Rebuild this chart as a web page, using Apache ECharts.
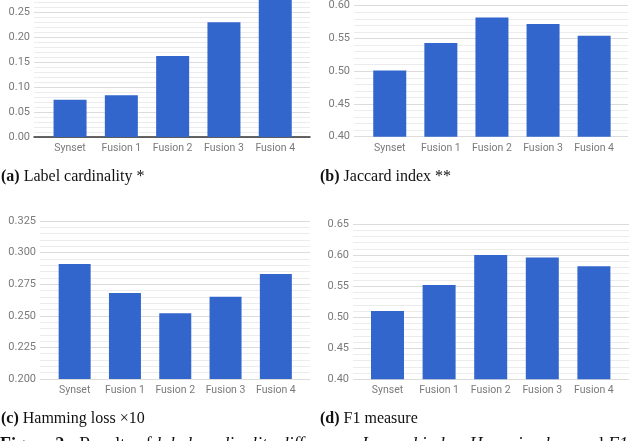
<!DOCTYPE html>
<html>
<head>
<meta charset="utf-8">
<script src="https://cdn.jsdelivr.net/npm/echarts@6/dist/echarts.min.js"></script>
<style>
html,body{margin:0;padding:0;background:#fff;overflow:hidden;}
#c{position:absolute;left:0;top:-18px;width:640px;height:477px;}
</style>
</head>
<body>
<div id="c"></div>
<script>
// ---- data ----
const categories = ['Synset', 'Fusion 1', 'Fusion 2', 'Fusion 3', 'Fusion 4'];
const labelCardinality = [0.072, 0.081, 0.157, 0.222, 0.29];
const jaccardIndex = [0.501, 0.543, 0.582, 0.572, 0.554];
const hammingLoss = [0.291, 0.268, 0.252, 0.265, 0.283];
const f1Measure = [0.510, 0.552, 0.600, 0.596, 0.582];
// axis ranges [min, max, interval, decimals]
const axisA = [0.00, 0.30, 0.05, 2];
const axisB = [0.40, 0.60, 0.05, 2];
const axisC = [0.200, 0.325, 0.025, 3];
const axisD = [0.40, 0.65, 0.05, 2];
const captionA = ['(a)', 'Label cardinality *'];
const captionB = ['(b)', 'Jaccard index **'];
const captionC = ['(c)', 'Hamming loss \u00d710'];
const captionD = ['(d)', 'F1 measure'];

// ---- layout (container is shifted up by 18px, so y values are +18) ----
const panels = [
  {data: labelCardinality, axis: axisA, wide: {left: 34, top: -1.5, width: 276, height: 156.5}, narrow: {left: 44.4, width: 256.5}, barW: 33, baseline: true},
  {data: jaccardIndex, axis: axisB, wide: {left: 354, top: 23.7, width: 274, height: 131}, narrow: {left: 364.2, width: 255.5}, barW: 33, baseline: false},
  {data: hammingLoss, axis: axisC, wide: {left: 40, top: 239, width: 270, height: 158}, narrow: {left: 49.5, width: 251.5}, barW: 32, baseline: false},
  {data: f1Measure, axis: axisD, wide: {left: 353, top: 242, width: 276, height: 155.3}, narrow: {left: 361.7, width: 258}, barW: 33, baseline: false}
];

const grid = [], xAxis = [], yAxis = [], series = [];
const labelFont = 'Roboto, Arial, sans-serif';
panels.forEach((p, i) => {
  const [mn, mx, step, dec] = p.axis;
  const gw = grid.length;
  grid.push({left: p.wide.left, top: p.wide.top, width: p.wide.width, height: p.wide.height, containLabel: false});
  grid.push({left: p.narrow.left, top: p.wide.top, width: p.narrow.width, height: p.wide.height, containLabel: false});
  // wide grid axes: gridlines + y labels
  xAxis.push({gridIndex: gw, type: 'value', min: 0, max: 1, show: true,
    axisLine: {show: p.baseline, lineStyle: {color: '#333', width: 1.5}},
    axisTick: {show: false}, axisLabel: {show: false}, splitLine: {show: false}});
  yAxis.push({gridIndex: gw, type: 'value', min: mn, max: mx, interval: step,
    axisLine: {show: false}, axisTick: {show: false},
    axisLabel: {color: '#7a7a7a', fontSize: 11, fontFamily: labelFont, margin: 4,
      formatter: v => v.toFixed(dec)},
    splitLine: {show: true, lineStyle: {color: '#dcdcdc', width: 1}},
    minorTick: {show: false, splitNumber: 5},
    minorSplitLine: {show: true, lineStyle: {color: '#ececec', width: 1}}});
  // narrow grid: bars
  xAxis.push({gridIndex: gw + 1, type: 'category', data: categories,
    axisLine: {show: false}, axisTick: {show: false},
    axisLabel: {color: '#7a7a7a', fontSize: 10.5, fontFamily: labelFont, margin: 6, interval: 0}});
  yAxis.push({gridIndex: gw + 1, type: 'value', min: mn, max: mx, interval: step, show: false,
    splitLine: {show: false}});
  series.push({type: 'bar', xAxisIndex: gw + 1, yAxisIndex: gw + 1, data: p.data,
    barWidth: p.barW, itemStyle: {color: '#3366cc'}, silent: true, z: 3});
});

const serif = '"Liberation Serif", "DejaVu Serif", serif';
function caption(c, x, y) {
  return {type: 'text', x: x, y: y,
    style: {text: '{b|' + c[0] + '} ' + c[1], font: '16px ' + serif, fill: '#111',
      verticalAlign: 'middle',
      rich: {b: {fontWeight: 'bold', fontFamily: serif, fontSize: 16, fill: '#111'}}}};
}
const graphic = [
  caption(captionA, 1, 195),
  caption(captionB, 320, 195),
  caption(captionC, 1, 437),
  caption(captionD, 320, 437),
  {type: 'text', x: 0, y: 454,
    style: {text: '{b|Figure 2:}  Results of {i|label cardinality difference}, {i|Jaccard index}, {i|Hamming loss} and {i|F1}',
      font: '18px ' + serif, fill: '#111', verticalAlign: 'top',
      rich: {b: {fontWeight: 'bold', fontFamily: serif, fontSize: 18, fill: '#111'},
             i: {fontStyle: 'italic', fontFamily: serif, fontSize: 18, fill: '#111'}}}}
];

const chart = echarts.init(document.getElementById('c'), null, {renderer: 'canvas'});
chart.setOption({animation: false, backgroundColor: '#fff', grid, xAxis, yAxis, series, graphic});
</script>
</body>
</html>
